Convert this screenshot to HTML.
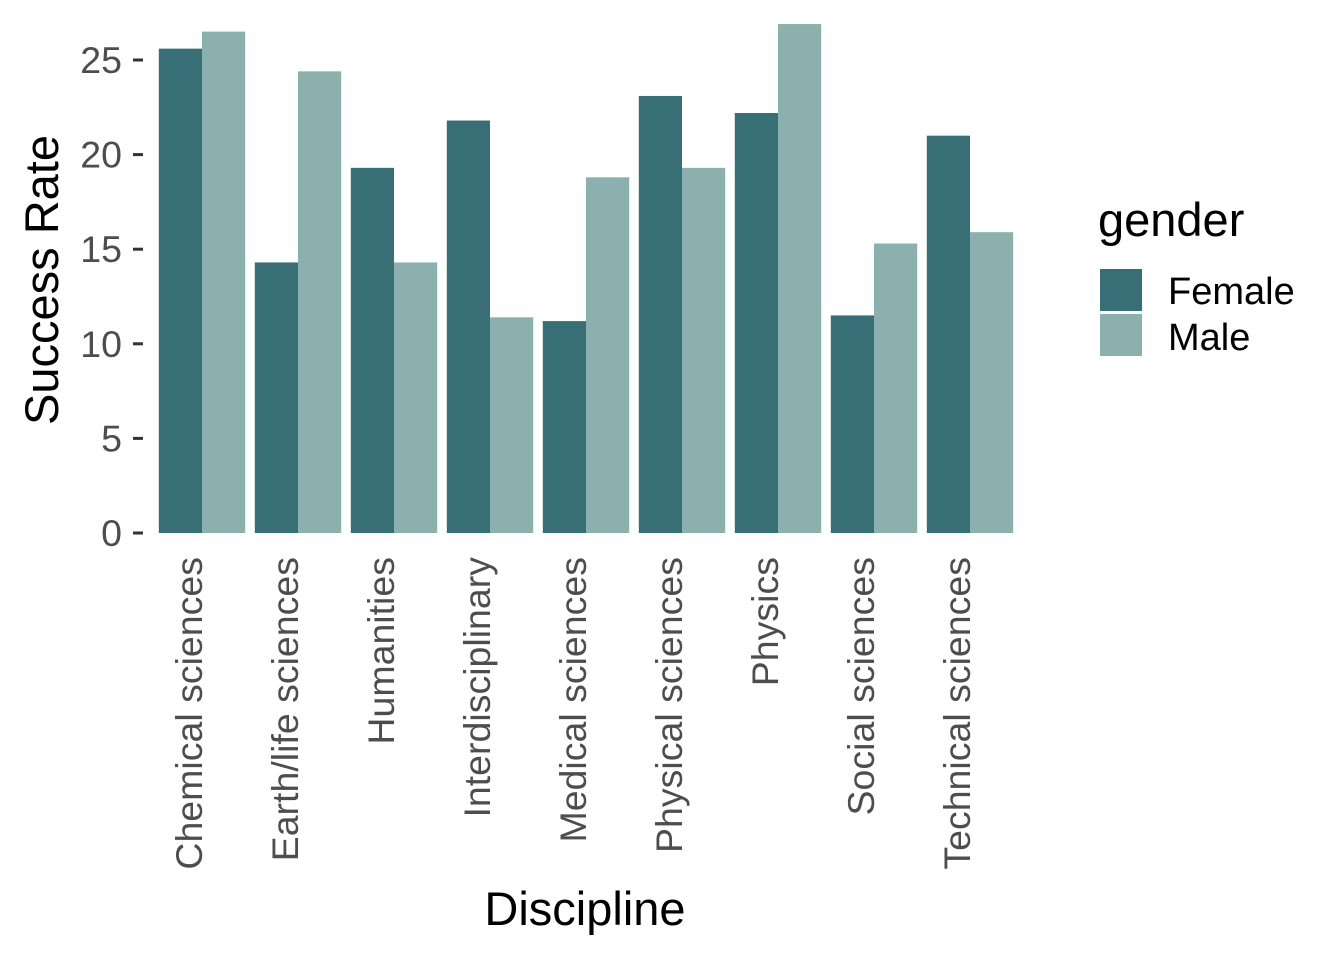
<!DOCTYPE html>
<html><head><meta charset="utf-8"><style>
body{margin:0;background:#fff;}
svg{display:block;font-family:"Liberation Sans",Arial,sans-serif;}
</style></head><body>
<svg id="chart" width="1344" height="960">
<g id="bars"></g>
<g id="yaxis"></g>
<g id="xaxis"></g>
<text x="58" y="280" font-size="47" fill="#000" text-anchor="middle" transform="rotate(-90 58 280)">Success Rate</text>
<text x="585" y="925" font-size="47" fill="#000" text-anchor="middle">Discipline</text>
<g>
<text x="1098" y="236" font-size="47" fill="#000">gender</text>
<rect x="1100" y="269" width="42" height="42" fill="#386e76"/>
<text x="1168" y="304" font-size="38" fill="#000">Female</text>
<rect x="1100" y="314" width="42" height="42" fill="#8cb0ad"/>
<text x="1168" y="350" font-size="38" fill="#000">Male</text>
</g>
</svg>
<script>
const categories=["Chemical sciences","Earth/life sciences","Humanities","Interdisciplinary","Medical sciences","Physical sciences","Physics","Social sciences","Technical sciences"];
const female=[25.6,14.3,19.3,21.8,11.2,23.1,22.2,11.5,21.0];
const male=[26.5,24.4,14.3,11.4,18.8,19.3,26.9,15.3,15.9];
const yTicks=[0,5,10,15,20,25];
const NS="http://www.w3.org/2000/svg";
const y0=533, pxPerUnit=18.92;
const y=v=>y0-v*pxPerUnit;
const step=96, c0=202, bw=43.2;
const x=i=>c0+i*step;
function mk(tag,attrs,parent){const e=document.createElementNS(NS,tag);for(const k in attrs)e.setAttribute(k,attrs[k]);parent.appendChild(e);return e;}
const bars=document.getElementById('bars'),ya=document.getElementById('yaxis'),xa=document.getElementById('xaxis');
categories.forEach((c,i)=>{
  const f=mk('rect',{x:x(i)-bw,y:y(female[i]),width:bw,height:y0-y(female[i]),fill:'#386e76'},bars);
  
  
  const m=mk('rect',{x:x(i),y:y(male[i]),width:bw,height:y0-y(male[i]),fill:'#8cb0ad'},bars);
  
  
  const t=mk('text',{x:0,y:0,'font-size':37.5,fill:'#4d4d4d','text-anchor':'end',transform:`translate(${x(i)+0},557) rotate(-90)`},xa);
  t.textContent=c;
  
  
});
yTicks.forEach(v=>{
  const l=mk('line',{x1:133,x2:143,y1:y(v),y2:y(v),stroke:'#333','stroke-width':3},ya);
  
  
  const t=mk('text',{x:122,y:y(v)+13,'font-size':37.5,fill:'#4d4d4d','text-anchor':'end'},ya);
  t.textContent=v;
  
  
});
</script>
</body></html>
